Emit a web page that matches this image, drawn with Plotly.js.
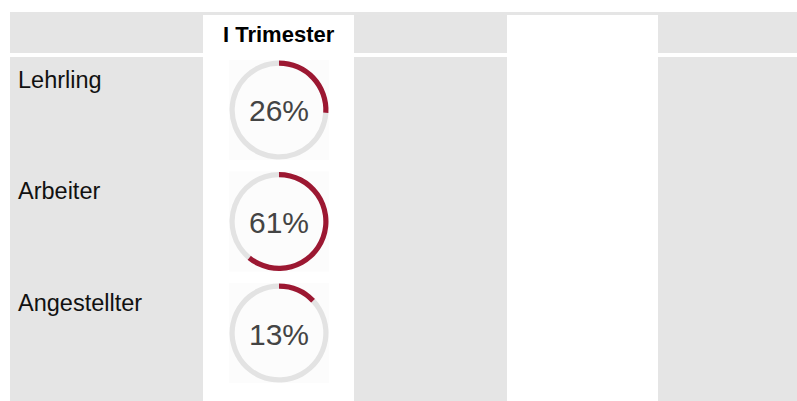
<!DOCTYPE html>
<html>
<head>
<meta charset="utf-8">
<script src="https://cdn.plot.ly/plotly-3.0.1.min.js"></script>
<style>html,body{margin:0;padding:0;background:#fff;}#chart{width:797px;height:401px;}</style>
</head>
<body>
<div id="chart"></div>
<script>
// Data
const columnHeaders = ['I Trimester'];
const categories = ['Lehrling', 'Arbeiter', 'Angestellter'];
const percentValues = [26, 61, 13];

// Layout constants (pixels)
const W = 797, H = 401;
const px = x => x / W;
const py = y => 1 - y / H;

const RED = '#9c1832';
const RING_GRAY = '#e3e3e3';
const BG_GRAY = '#e5e5e5';
const colCenterX = 279;
const rowCenterY = [110, 221.5, 333];
const R = 49.5;

const traces = percentValues.map((v, i) => ({
  type: 'pie',
  values: [v, 100 - v],
  labels: ['Anteil', 'Rest'],
  marker: {colors: [RED, RING_GRAY], line: {width: 0}},
  hole: 0.895,
  sort: false,
  direction: 'clockwise',
  rotation: 0,
  textinfo: 'none',
  hoverinfo: 'skip',
  showlegend: false,
  domain: {
    x: [px(colCenterX - R), px(colCenterX + R)],
    y: [py(rowCenterY[i] + R), py(rowCenterY[i] - R)]
  }
}));

const rect = (x0, y0, x1, y1, color) => ({
  type: 'rect', xref: 'paper', yref: 'paper', layer: 'below',
  x0: px(x0), x1: px(x1), y0: py(y1), y1: py(y0),
  fillcolor: color, line: {width: 0}
});

const shapes = [
  rect(10, 12, 797, 53, BG_GRAY),
  rect(10, 57, 797, 401, BG_GRAY),
  rect(203, 15, 354, 401, '#ffffff'),
  rect(507, 15, 658, 401, '#ffffff')
];
rowCenterY.forEach(cy => shapes.push(rect(colCenterX - 50, cy - 50, colCenterX + 50, cy + 50, '#fcfcfc')));

const annotations = [];
annotations.push({
  xref: 'paper', yref: 'paper', x: px(colCenterX), y: py(34),
  xanchor: 'center', yanchor: 'middle', showarrow: false,
  text: '<b>' + columnHeaders[0] + '</b>',
  font: {family: 'Liberation Sans, Arial, sans-serif', size: 22, color: '#000000'}
});
categories.forEach((c, i) => {
  annotations.push({
    xref: 'paper', yref: 'paper', x: px(16), y: py(rowCenterY[i] - 30),
    xanchor: 'left', yanchor: 'middle', showarrow: false,
    text: c,
    font: {family: 'Liberation Sans, Arial, sans-serif', size: 23.5, color: '#111111'}
  });
  annotations.push({
    xref: 'paper', yref: 'paper', x: px(colCenterX), y: py(rowCenterY[i] + 1),
    xanchor: 'center', yanchor: 'middle', showarrow: false,
    text: percentValues[i] + '%',
    font: {family: 'Liberation Sans, Arial, sans-serif', size: 30, color: '#444444'}
  });
});

const layout = {
  width: W, height: H,
  margin: {l: 0, r: 0, t: 0, b: 0, pad: 0},
  paper_bgcolor: '#ffffff',
  plot_bgcolor: '#ffffff',
  showlegend: false,
  shapes: shapes,
  annotations: annotations
};

Plotly.newPlot('chart', traces, layout, {displayModeBar: false, staticPlot: true});
</script>
</body>
</html>
